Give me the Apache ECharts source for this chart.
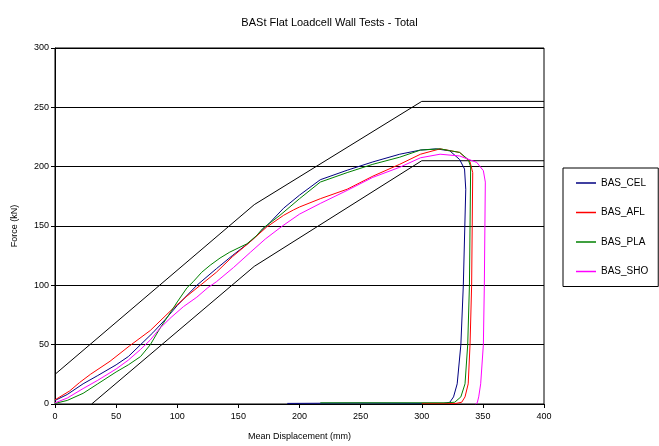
<!DOCTYPE html>
<html>
<head>
<meta charset="utf-8">
<script src="https://cdn.jsdelivr.net/npm/echarts@6/dist/echarts.min.js"></script>
<style>
  html, body { margin: 0; padding: 0; background: #fff; }
  #chart { width: 659px; height: 446px; }
</style>
</head>
<body>
<div id="chart"></div>
<script>
// series points: [displacement mm, force kN]
var cel = [[0,3],[10,8],[23,17],[35,24],[50,33],[60,40],[70,50],[80,60],[90,71],[100,83],[116,100],[132,114],[145,125],[160,137],[169,146],[175,152],[187,165],[200,176],[217,189],[239,197],[260,204],[282,210.5],[299,214],[312,215],[323,213.3],[331,206],[335,198],[336,181],[334,100],[332,50],[329,17],[326,6],[323,1.5],[318,0.5],[250,0.8],[190,0.5]];
var afl = [[0,3.5],[12,11],[20,18],[29,25],[45,36],[61,49],[78,62],[97,81],[108,91],[120,101],[132,111],[145,124],[160,137],[173,149],[187,159],[195,163.5],[200,166],[217,173],[239,181],[260,192],[282,202],[299,210.5],[315,215],[331,212],[339.5,204],[341.7,195],[340.8,100],[339.5,50],[338,17],[335.4,6],[332.7,1.5],[328,0.5],[300,0.5]];
var pla = [[0,0.5],[10,3],[23,9],[35,17],[50,27],[60,33],[70,40],[78,50],[86,64],[95,78],[100,86],[108,98],[113,103],[120,111],[127,117],[135,123],[143,128],[157,135],[165,142],[170,148],[184,159],[200,173],[217,187],[239,195],[260,202],[282,208],[299,214],[315,215],[331,212],[338,206],[340,200],[339,100],[337.6,50],[335.4,17],[332,6],[327,1.5],[320,1],[217,1]];
var sho = [[0,1],[10,5],[23,13],[35,20],[50,29.5],[60,37],[70,46],[78,54],[86,64],[95,73],[105,82],[116,90],[125,98],[132,103],[146,115],[160,128],[172,139],[186,150],[200,160],[217,169],[239,180],[260,191],[282,199.5],[299,207.5],[315,210.5],[331,209],[345,203.6],[350.4,196.6],[352,187],[351.2,100],[350.4,50],[348.2,17],[346.6,6],[345.4,1],[344,0]];
// corridor bounds
var upperBound = [[0,25],[163,168],[300,255],[400,255]];
var lowerBound = [[30,0],[163,116],[300,205],[400,205]];

var names = ['BAS_CEL', 'BAS_AFL', 'BAS_PLA', 'BAS_SHO'];
var colors = ['#000080', '#ff0000', '#008000', '#ff00ff'];
var tests = [cel, afl, pla, sho];

var chart = echarts.init(document.getElementById('chart'));
var font = 'Liberation Sans, Arial, sans-serif';

var series = tests.map(function (d, i) {
    return {
        name: names[i],
        type: 'line',
        data: d,
        showSymbol: false,
        lineStyle: { color: colors[i], width: 1 },
        itemStyle: { color: colors[i] },
        z: 3
    };
});
[upperBound, lowerBound].forEach(function (d, i) {
    series.push({
        name: 'corridor' + i,
        type: 'line',
        data: d,
        showSymbol: false,
        lineStyle: { color: '#000', width: 1 },
        z: 2
    });
});

var option = {
    animation: false,
    backgroundColor: '#fff',
    textStyle: { fontFamily: font },
    title: {
        text: 'BASt Flat Loadcell Wall Tests - Total',
        left: 'center',
        top: 12,
        textStyle: { fontSize: 11, fontWeight: 'normal', color: '#000', fontFamily: font }
    },
    legend: {
        data: names,
        orient: 'vertical',
        left: 563,
        top: 168,
        icon: 'rect',
        itemWidth: 20,
        itemHeight: 1.5,
        itemGap: 19.5,
        padding: [10, 10, 10, 13],
        borderColor: '#000',
        borderWidth: 1,
        backgroundColor: '#fff',
        textStyle: { fontSize: 10, color: '#000', fontFamily: font }
    },
    grid: {
        left: 55, right: 115, top: 48, bottom: 39,
        show: true, borderColor: '#000', borderWidth: 1
    },
    xAxis: {
        type: 'value',
        min: 0, max: 400, interval: 50,
        name: 'Mean Displacement (mm)',
        nameLocation: 'middle',
        nameGap: 28,
        nameTextStyle: { fontSize: 9, color: '#000' },
        axisLine: { lineStyle: { color: '#000' } },
        axisTick: { show: true, length: 4, lineStyle: { color: '#000' } },
        axisLabel: { fontSize: 9, color: '#000', margin: 8 },
        splitLine: { show: false }
    },
    yAxis: {
        type: 'value',
        min: 0, max: 300, interval: 50,
        name: 'Force (kN)',
        nameLocation: 'middle',
        nameRotate: 90,
        nameGap: 36,
        nameTextStyle: { fontSize: 9, color: '#000' },
        axisLine: { show: true, lineStyle: { color: '#000' } },
        axisTick: { show: true, length: 4, lineStyle: { color: '#000' } },
        axisLabel: { fontSize: 9, color: '#000', margin: 6 },
        splitLine: { show: true, lineStyle: { color: '#000', width: 1 } }
    },
    series: series
};

chart.setOption(option);
</script>
</body>
</html>
